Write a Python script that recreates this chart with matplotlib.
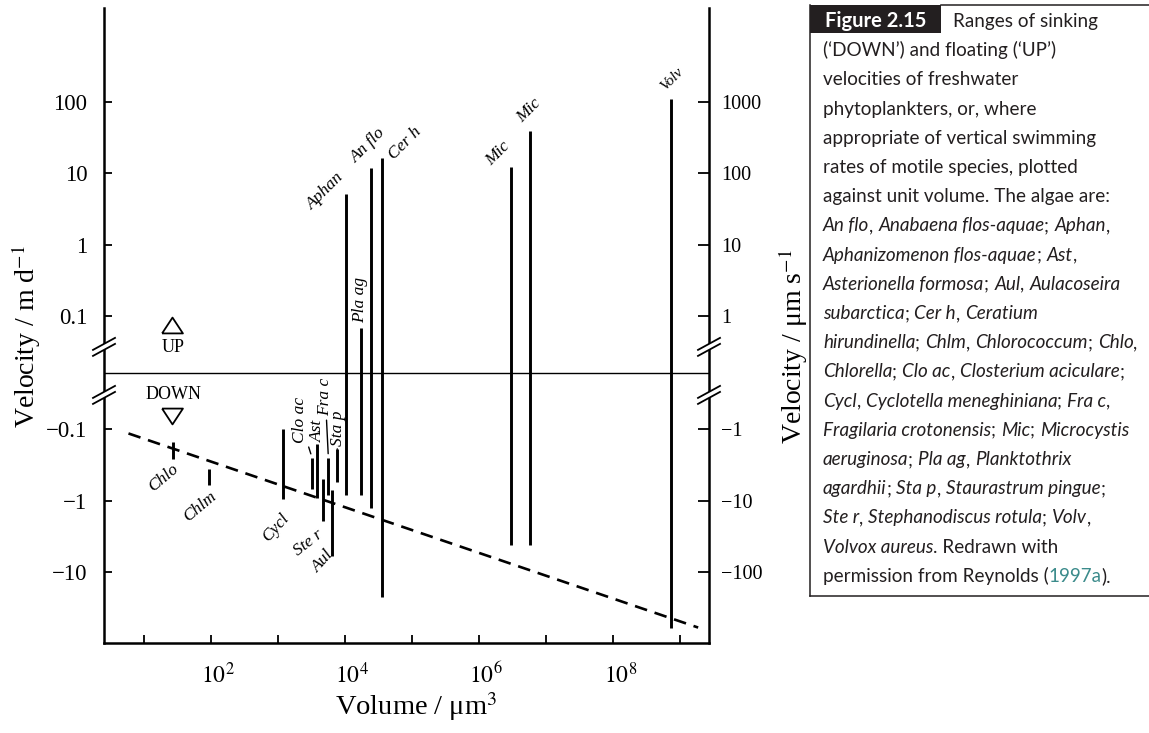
import re
import matplotlib
matplotlib.use('Agg')
import matplotlib.pyplot as plt
from matplotlib.font_manager import FontProperties
from matplotlib.lines import Line2D
from matplotlib.patches import Polygon, Rectangle
from matplotlib.ticker import NullLocator
from matplotlib.transforms import IdentityTransform, ScaledTranslation

plt.rcParams['font.family'] = ['Liberation Serif', 'DejaVu Serif']
plt.rcParams['mathtext.fontset'] = 'stix'

# ---- values ----
species = ['Chlo', 'Chlm', 'Cycl', 'Clo ac', 'Ast', 'Ste r', 'Fra c', 'Aul', 'Sta p',
           'Aphan', 'Pla ag', 'An flo', 'Cer h', 'Mic', 'Mic', 'Volv']
volume = [27, 93, 1190, 3200, 3800, 4700, 5600, 6400, 7600,
          10400, 17400, 24600, 35800, 3.0e6, 5.8e6, 7.4e8]            # um^3
v_high = [-0.15, -0.36, -0.10, -0.25, -0.16, -0.50, -0.25, -0.71, -0.19,
          5.2, 0.08, 11.9, 16.5, 12.3, 39, 110]                         # m d-1
v_low = [-0.26, -0.59, -0.95, -0.69, -0.92, -1.9, -0.84, -5.8, -0.55,
         -0.84, -0.84, -1.27, -22, -4.2, -4.2, -59]

trend_volume = [5.8, 1.86e9]
trend_velocity = [-0.114, -59]

y_ticks = [100, 10, 1, 0.1, -0.1, -1, -10]
y_ticklabels = ['100', '10', '1', '0.1', '\u22120.1', '\u22121', '\u221210']
y2_ticklabels = ['1000', '100', '10', '1', '\u22121', '\u221210', '\u2212100']
x_ticks = [1e1, 1e2, 1e3, 1e4, 1e5, 1e6, 1e7, 1e8, 1e9]
x_ticklabels = ['', '$10^{2}$', '', '$10^{4}$', '', '$10^{6}$', '', '$10^{8}$', '']

updown_volume = 26
up_level, down_level = 0.085, -0.076
break_levels = [0.046, -0.039]

# label placement for each bar: which end, offset (px), rotation
label_end = ['low', 'low', 'low', 'high', 'high', 'low', 'high', 'low', 'high',
             'high', 'high', 'high', 'high', 'high', 'high', 'high']
label_off = [(-10, -19), (-9, -22), (-8, -28), (-12, 38), (1, 13), (-15, -22), (-3, 61),
             (-9, -6), (1, 21), (-21, 2), (-1, 28), (-3, 23), (23, 14), (-13, 13), (-1, 20), (1, 20)]
label_rot = [40, 40, 48, 90, 90, 38, 90, 48, 90, 45, 90, 45, 45, 45, 45, 45]
leader = ['Clo ac', 'Fra c', 'Sta p']

caption = [
    "(\u2018DOWN\u2019) and floating (\u2018UP\u2019)",
    "velocities of freshwater",
    "phytoplankters, or, where",
    "appropriate of vertical swimming",
    "rates of motile species, plotted",
    "against unit volume. The algae are:",
    "*An flo*, *Anabaena flos-aquae*; *Aphan*,",
    "*Aphanizomenon flos-aquae*; *Ast*,",
    "*Asterionella formosa*; *Aul*, *Aulacoseira*",
    "*subarctica*; *Cer h*, *Ceratium*",
    "*hirundinella*; *Chlm*, *Chlorococcum*; *Chlo*,",
    "*Chlorella*; *Clo ac*, *Closterium aciculare*;",
    "*Cycl*, *Cyclotella meneghiniana*; *Fra c*,",
    "*Fragilaria crotonensis*; *Mic*; *Microcystis*",
    "*aeruginosa*; *Pla ag*, *Planktothrix*",
    "*agardhii*; *Sta p*, *Staurastrum pingue*;",
    "*Ste r*, *Stephanodiscus rotula*; *Volv*,",
    "*Volvox aureus*. Redrawn with",
    "permission from Reynolds (~1997a~).",
]

W, H = 1149, 733
fig = plt.figure(figsize=(W / 100, H / 100), dpi=100)
ax = fig.add_axes([104 / W, 1 - 643 / H, 605 / W, 635 / H])

ax.set_xscale('log')
ax.set_yscale('symlog', linthresh=0.1, linscale=0.711)
ax.set_xlim(2.5, 2.7e9)
ax.set_ylim(-97, 2050)

ax.axhline(0, color='black', lw=1.0)
ax.vlines(volume, v_low, v_high, colors='black', lw=2.1)
ax.plot(trend_volume, trend_velocity, color='black', lw=1.9, linestyle=(0, (4.8, 3)))

tri_up = [(-1, -0.76), (1, -0.76), (0, 0.76), (-1, -0.76)]
tri_dn = [(-1, 0.76), (1, 0.76), (0, -0.76), (-1, 0.76)]
ax.plot([updown_volume], [up_level], marker=tri_up, ms=15, mfc='white', mec='black', mew=1.3)
ax.plot([updown_volume], [down_level], marker=tri_dn, ms=15, mfc='white', mec='black', mew=1.3)
ax.annotate('UP', (updown_volume, up_level), xytext=(1, -23), textcoords='offset pixels',
            ha='center', va='center', fontsize=13)
ax.annotate('DOWN', (updown_volume, down_level), xytext=(1, 21), textcoords='offset pixels',
            ha='center', va='center', fontsize=13)

for i, name in enumerate(species):
    yv = v_low[i] if label_end[i] == 'low' else v_high[i]
    arrow = None
    if name in leader:
        arrow = dict(arrowstyle='-', lw=1.0, color='black', shrinkA=1, shrinkB=3)
    ax.annotate(name, (volume[i], yv), xytext=label_off[i], textcoords='offset pixels',
                rotation=label_rot[i], rotation_mode='anchor', ha='center', va='center',
                fontstyle='italic', fontsize=11 if name == 'Volv' else 12.5, arrowprops=arrow)

ax.set_xticks(x_ticks, x_ticklabels)
ax.set_yticks(y_ticks, y_ticklabels)
ax.xaxis.set_minor_locator(NullLocator())
ax.yaxis.set_minor_locator(NullLocator())
ax.tick_params(axis='y', direction='in', length=6, width=1.3, pad=12, labelsize=16.5)
ax.tick_params(axis='x', direction='in', length=6, width=1.3, pad=14, labelsize=17)
shift = ScaledTranslation(7 / 100, 0, fig.dpi_scale_trans)
for lbl in ax.get_xticklabels():
    lbl.set_transform(lbl.get_transform() + shift)
ax.spines['top'].set_visible(False)
ax.spines['right'].set_visible(False)
for s in ('left', 'bottom'):
    ax.spines[s].set_linewidth(1.8)

ax2 = ax.twinx()
ax2.set_yscale('symlog', linthresh=0.1, linscale=0.711)
ax2.set_ylim(ax.get_ylim())
ax2.set_yticks(y_ticks, y2_ticklabels)
ax2.yaxis.set_minor_locator(NullLocator())
ax2.tick_params(axis='y', direction='in', length=8, width=1.3, pad=9, labelsize=14.5)
for s in ('top', 'left', 'bottom'):
    ax2.spines[s].set_visible(False)
ax2.spines['right'].set_linewidth(1.8)

ax.set_ylabel('Velocity / m d$^{-1}$', fontsize=20)
ax.yaxis.set_label_coords(-0.1008, 0.482)
ax2.set_ylabel('Velocity / \u03bcm s$^{-1}$', fontsize=20)
ax2.yaxis.set_label_coords(1.111, 0.466)
ax.set_xlabel('Volume / \u03bcm$^{3}$', fontsize=20.5, va='top')
ax.xaxis.set_label_coords(0.516, -0.074)

# axis break marks on both spines
for xf in (0, 1):
    for lv in break_levels:
        px, py = ax.get_yaxis_transform().transform((xf, lv))
        gap = Polygon([(px - 11, py - 9), (px + 11, py + 3), (px + 11, py + 9), (px - 11, py - 3)],
                      closed=True, fc='white', ec='none', transform=IdentityTransform(), zorder=5)
        fig.add_artist(gap)
        for d in (-3, 3):
            fig.add_artist(Line2D([px - 11, px + 11], [py + d - 6, py + d + 6], color='black',
                                  lw=1.3, transform=IdentityTransform(), zorder=6))

# ---- caption box ----
ink = '#231f20'
def fx(x):
    return x / W
def fy(y):
    return 1 - y / H

fig.add_artist(Line2D([fx(810), fx(810)], [fy(5), fy(596)], color=ink, lw=1.1))
fig.add_artist(Line2D([fx(810), fx(1149)], [fy(596), fy(596)], color=ink, lw=1.1))
fig.add_artist(Line2D([fx(941), fx(1149)], [fy(5), fy(5)], color=ink, lw=1.1))
fig.add_artist(Rectangle((fx(810), fy(33)), fx(941) - fx(810), fy(5) - fy(33), fc=ink, ec='none'))

cap_family = ['Lato', 'DejaVu Sans']
cap_size = 13.6
line_step = 29.2
fig.text(fx(825), fy(27), 'Figure 2.15', family=cap_family, fontsize=14.5, weight='bold',
         color='white', va='baseline')

renderer = fig.canvas.get_renderer()
_props = {s: FontProperties(family=cap_family, size=cap_size, style=s) for s in ('normal', 'italic')}

def w(s, style):
    return renderer.get_text_width_height_descent(s, _props[style], ismath=False)[0]

def advance(text, style):
    # pen advance of a run, measured the way the renderer lays glyphs out
    return w(' ' + text + '|', style) - w(' |', style)

def ink_left(text, style):
    # how far the left edge of the run's box sits from its pen origin
    sp = w('  |', style) - w(' |', style)
    return w(' ' + text, style) - sp - w(text, style)

def draw_line(x, y, line):
    for p in [p for p in re.split(r'(\*[^*]*\*|~[^~]*~)', line) if p]:
        if p.startswith('*'):
            text, style, color = p[1:-1], 'italic', ink
        elif p.startswith('~'):
            text, style, color = p[1:-1], 'normal', '#3b8b8b'
        else:
            text, style, color = p, 'normal', ink
        fig.text(fx(x + ink_left(text, style)), fy(y), text, family=cap_family, fontsize=cap_size,
                 fontstyle=style, color=color, va='baseline', ha='left')
        x += advance(text, style)

draw_line(953, 27, 'Ranges of sinking')
for k, line in enumerate(caption):
    draw_line(823, 27 + line_step * (k + 1), line)

fig.savefig('out.png', dpi=100)
